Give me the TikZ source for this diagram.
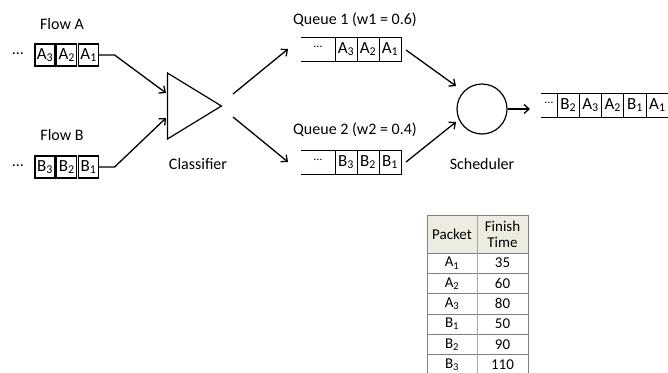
\documentclass[tikz,border=0pt]{standalone}
\usepackage{fontspec}
\setmainfont{Carlito}
\definecolor{HeaderTan}{HTML}{EEECE1}
\definecolor{GridGray}{HTML}{A6A6A6}
\definecolor{EdgeGray}{HTML}{808080}
\usetikzlibrary{arrows.meta, positioning, shapes.geometric, calc}
\newcommand{\pkt}[2]{#1\textsubscript{#2}}

\begin{document}
\begin{tikzpicture}[x=1pt, y=-1pt,
  lbl/.style={font=\fontsize{16}{18}\selectfont},
  pktbox/.style={draw, line width=1.3pt, minimum width=20pt, minimum height=22pt,
    inner sep=0pt, outer sep=0pt, font=\fontsize{17}{17}\selectfont},
  qcell/.style={pktbox, line width=1pt, minimum width=22pt, minimum height=24pt},
  flowarrow/.style={line width=1.3pt, -{Straight Barb[length=5pt, width=9pt]}},
  tbl/.style={font=\fontsize{15}{16}\selectfont}]
  \useasboundingbox (0,0) rectangle (668,372);

  % flows
  \node[lbl] (flowA) at (62,24) {Flow A};
  \node[pktbox] (a3) at (45,55) {\pkt{A}{3}};
  \node[pktbox, right=1.8pt of a3] (a2) {\pkt{A}{2}};
  \node[pktbox, right=1.8pt of a2] (a1) {\pkt{A}{1}};
  \node[lbl] (dotsA) at (18,54) {\ldots};
  \node[lbl] (flowB) at (62,135) {Flow B};
  \node[pktbox] (b3) at (45,167) {\pkt{B}{3}};
  \node[pktbox, right=1.8pt of b3] (b2) {\pkt{B}{2}};
  \node[pktbox, right=1.8pt of b2] (b1) {\pkt{B}{1}};
  \node[lbl] (dotsB) at (18,166) {\ldots};

  % classifier
  \node[isosceles triangle, isosceles triangle stretches, draw, line width=1.2pt,
    minimum width=66pt, minimum height=54pt, inner sep=0pt, anchor=apex] (cls) at (223,106) {};
  \node[lbl] (clsLbl) at (198,164) {Classifier};
  \coordinate (inA) at (166,93);
  \coordinate (inB) at (166,118);
  \draw[flowarrow] (a1.east) -- ++(16,0) -- (inA);
  \draw[flowarrow] (b1.east) -- ++(16,0) -- (inB);

  % queues
  \node[lbl] (q1Lbl) at (355,20) {Queue 1 (w1 = 0.6)};
  \node[qcell] (q1a3) at (346,49) {\pkt{A}{3}};
  \node[qcell, right=0pt of q1a3] (q1a2) {\pkt{A}{2}};
  \node[qcell, right=0pt of q1a2] (q1a1) {\pkt{A}{1}};
  \draw[line width=1pt] (q1a3.north west) -- ++(-34,0) (q1a3.south west) -- ++(-34,0);
  \node[font=\fontsize{12}{12}\selectfont] (q1dots) at (318,47) {\ldots};

  \node[lbl] (q2Lbl) at (355,130) {Queue 2 (w2 = 0.4)};
  \node[qcell] (q2b3) at (346,162) {\pkt{B}{3}};
  \node[qcell, right=0pt of q2b3] (q2b2) {\pkt{B}{2}};
  \node[qcell, right=0pt of q2b2] (q2b1) {\pkt{B}{1}};
  \draw[line width=1pt] (q2b3.north west) -- ++(-34,0) (q2b3.south west) -- ++(-34,0);
  \node[font=\fontsize{12}{12}\selectfont] (q2dots) at (318,160) {\ldots};

  \coordinate (clsUp) at (233,94);
  \coordinate (clsDn) at (233,117);
  \draw[flowarrow] (clsUp) -- (q1a3.west -| 288,0);
  \draw[flowarrow] (clsDn) -- (q2b3.west -| 288,0);

  % scheduler
  \node[circle, draw, line width=1.2pt, minimum size=50pt] (sch) at (482,109) {};
  \node[lbl] (schLbl) at (482,164) {Scheduler};
  \coordinate (schInA) at (456,86);
  \coordinate (schInB) at (456,122);
  \draw[flowarrow] ($(q1a1.east)+(5,1)$) -- (schInA);
  \draw[flowarrow] ($(q2b1.east)+(5,0)$) -- (schInB);

  % output
  \node[qcell, minimum width=22.3pt] (ob2) at (568.2,105) {\pkt{B}{2}};
  \node[qcell, minimum width=22.3pt, right=0pt of ob2] (oa3) {\pkt{A}{3}};
  \node[qcell, minimum width=22.3pt, right=0pt of oa3] (oa2) {\pkt{A}{2}};
  \node[qcell, minimum width=22.3pt, right=0pt of oa2] (ob1) {\pkt{B}{1}};
  \node[qcell, minimum width=22.3pt, right=0pt of ob1] (oa1) {\pkt{A}{1}};
  \draw[line width=1pt] (ob2.north west) -- ++(-16,0) (ob2.south west) -- ++(-16,0);
  \node[font=\fontsize{12}{12}\selectfont] (odots) at (549,103) {\ldots};
  \coordinate (outEnd) at (530,109);
  \draw[flowarrow] (sch.east) -- (outEnd);

  % finish times
  \fill[HeaderTan] (427,215) rectangle (528,253);
  \node[tbl] (hPkt) at (452,234) {Packet};
  \node[tbl, align=center] (hFin) at (502.5,234) {Finish\\Time};
  \foreach \ltr/\sub/\ft [count=\r] in {A/1/35, A/2/60, A/3/80, B/1/50, B/2/90, B/3/110} {
    \node[tbl] (p\r) at (452,{253+20.3*\r-10.15}) {\pkt{\ltr}{\sub}};
    \node[tbl] (t\r) at (502.5,{253+20.3*\r-10.15}) {\ft};
    \draw[EdgeGray, line width=0.6pt] (427,{253+20.3*(\r-1)}) -- (528,{253+20.3*(\r-1)});
  }
  \draw[GridGray, line width=0.6pt] (477,215) -- (477,380);
  \draw[EdgeGray, line width=0.8pt] (427,380) -- (427,215) -- (528,215) -- (528,380);
\end{tikzpicture}
\end{document}
